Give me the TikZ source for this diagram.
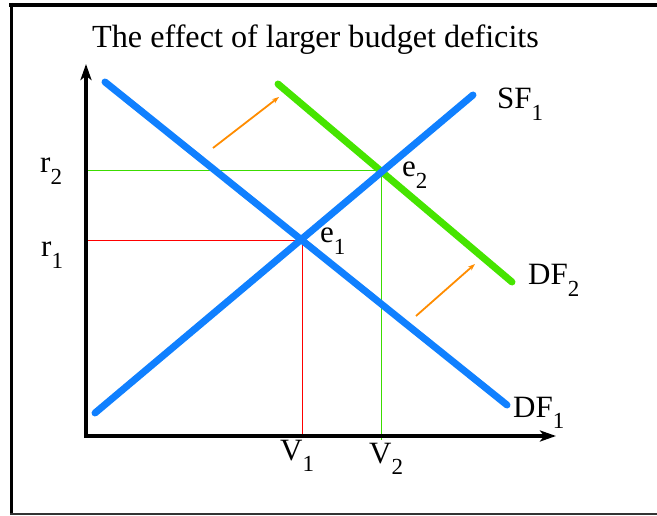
\documentclass[tikz,border=0pt]{standalone}
\usepackage{fontspec}
\setmainfont{Liberation Serif}
\usetikzlibrary{arrows.meta}
\definecolor{curveblue}{RGB}{16,128,255}
\definecolor{curvegreen}{RGB}{70,228,0}
\definecolor{guidegreen}{RGB}{60,220,0}
\definecolor{shiftorange}{RGB}{255,140,0}
\newcommand{\lbl}[2]{#1\raisebox{-0.36em}{\fontsize{23}{23}\selectfont #2}}
\tikzset{
  curve/.style={line width=7pt, line cap=round},
  guide/.style={line width=1pt},
  axis/.style={line width=4pt, -{Stealth[length=16pt,width=11pt,inset=4pt]}},
  shiftarrow/.style={shiftorange, line width=1.8pt, -{Stealth[length=7pt,width=5pt]}},
  txt/.style={inner sep=0pt, anchor=base west, font=\fontsize{31}{31}\selectfont},
  frameline/.style={black}
}
\begin{document}
\begin{tikzpicture}[x=1pt,y=-1pt]
\useasboundingbox (0,0) rectangle (657,516);
% frame (open on the right)
\draw[frameline, line width=4pt] (9,5) -- (657,5);
\draw[frameline, line width=3pt] (11.5,3) -- (11.5,515);
\draw[frameline, line width=2pt, draw=black!80] (10,514) -- (657,514);
% title
\node[txt, font=\fontsize{32.2}{32.2}\selectfont] (title) at (92,48) {The effect of larger budget deficits};
% coordinates
\coordinate (O) at (86,436);
\coordinate (ytop) at (86,64);
\coordinate (xend) at (556,436);
\coordinate (df1a) at (105,82);
\coordinate (df1b) at (507,405);
\coordinate (sf1a) at (95,413);
\coordinate (sf1b) at (473,95);
\coordinate (df2a) at (278,84);
\coordinate (df2b) at (512,282);
\coordinate (E1) at (302,240.5);
\coordinate (E2) at (381,171);
\coordinate (r1y) at (86,240.5);
\coordinate (r2y) at (86,171);
\coordinate (v1x) at (302,438);
\coordinate (v2x) at (381,440);
\coordinate (a1s) at (213,148);
\coordinate (a1e) at (279,97);
\coordinate (a2s) at (416,316);
\coordinate (a2e) at (475,264);
% guide lines
\draw[guide, red] (r1y) -- (E1) -- (v1x);
\draw[guide, guidegreen] (r2y) -- (E2) -- (v2x);
% curves
\draw[curve, curveblue] (df1a) -- (df1b);
\draw[curve, curvegreen] (df2a) -- (df2b);
\draw[curve, curveblue] (sf1a) -- (sf1b);
% axes
\draw[axis] (O) -- (ytop);
\draw[axis] ([xshift=-2pt]O) -- (xend);
% shift arrows
\draw[shiftarrow] (a1s) -- (a1e);
\draw[shiftarrow] (a2s) -- (a2e);
% labels
\node[txt] (sf1) at (497,109) {\lbl{SF}{1}};
\node[txt] (df2) at (528,285) {\lbl{DF}{2}};
\node[txt] (df1) at (513,417) {\lbl{DF}{1}};
\node[txt] (r2) at (40,173) {\lbl{r}{2}};
\node[txt] (r1) at (41,257) {\lbl{r}{1}};
\node[txt] (e2) at (402,177) {\lbl{e}{2}};
\node[txt] (e1) at (320,243) {\lbl{e}{1}};
\node[txt] (v1) at (280,460) {\lbl{V}{1}};
\node[txt] (v2) at (369,463) {\lbl{V}{2}};
\end{tikzpicture}
\end{document}
